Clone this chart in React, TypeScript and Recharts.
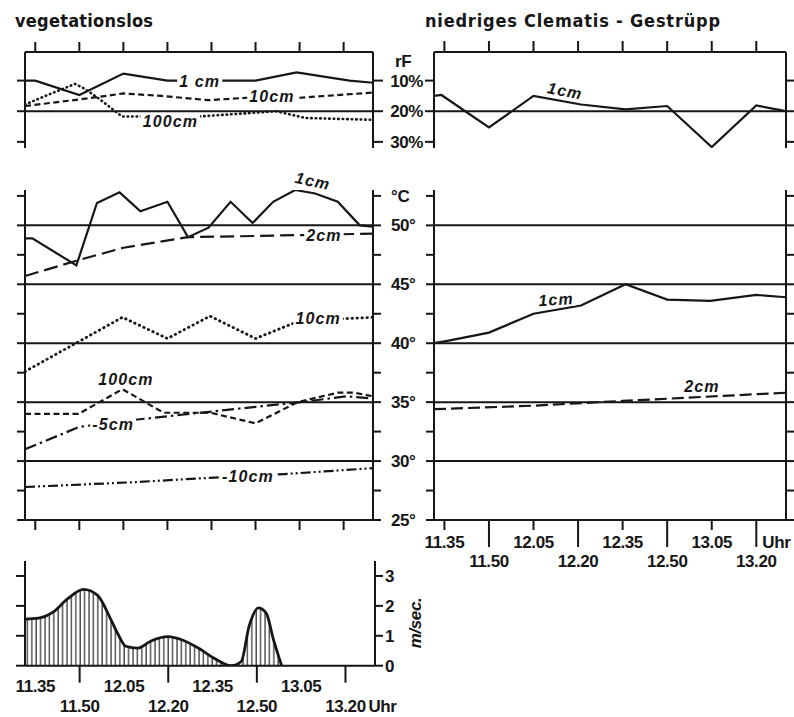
import React from "react";
import {
  LineChart,
  ComposedChart,
  Line,
  Area,
  XAxis,
  YAxis,
  ReferenceLine,
  ReferenceDot,
} from "recharts";

const W = 794;
const H = 717;
const INK = "#161616";
const NUM_FONT = '"Liberation Sans", Arial, sans-serif';
const TITLE_FONT = '"DejaVu Sans Condensed", "DejaVu Sans", sans-serif';
const AX = 2; // thickness reserved for every axis

type Pt = [number, number];

// time axis in minutes after midnight (11.35 -> 695)
const timeDomain: [number, number] = [691.5, 810];
const timeTicks = [695, 710, 725, 740, 755, 770, 785, 800];
const timeLabels = ["11.35", "11.50", "12.05", "12.20", "12.35", "12.50", "13.05", "13.20"];
const lowerRowTicks = [710, 740, 770, 800];

const rfTicks = [10, 20, 30];
const tempTicks = [25, 27.5, 30, 32.5, 35, 37.5, 40, 42.5, 45, 47.5, 50, 52.5];
const tempGrid = [30, 35, 40, 45, 50];
const windTicks = [0, 1, 2, 3];

// vegetationslos – rF (%)
const bareRf1cm: Pt[] = [
  [691.5, 10], [695, 10], [710, 14.7], [725, 7.7], [740, 10], [755, 10],
  [770, 10], [784, 7.3], [802, 10], [810, 10.7],
];
const bareRf10cm: Pt[] = [
  [691.5, 18.3], [713, 15.8], [725, 14.2], [738, 15], [754, 16.4], [767, 15.6],
  [785, 15.6], [810, 13.9],
];
const bareRf100cm: Pt[] = [
  [691.5, 17.8], [700, 14.4], [708.5, 11.1], [711.5, 12.5], [717, 16.1], [724.5, 21.7],
  [751, 21.7], [777, 20], [787, 22.2], [810, 22.8],
];

// niedriges Clematis-Gestrüpp – rF (%)
const shrubRf1cm: Pt[] = [
  [691.5, 15], [694, 14.7], [710, 25.3], [725, 15], [741, 17.8], [756, 19.4],
  [770, 18.3], [785, 31.7], [800, 18.1], [810, 20],
];

// vegetationslos – temperature (°C)
const bareT1cm: Pt[] = [
  [691.5, 48.9], [694, 48.9], [709, 46.6], [716, 51.9], [723.7, 52.8], [730.8, 51.2],
  [740, 52.0], [747, 49.0], [754, 49.8], [761.5, 52.0], [769, 50.2], [776, 52.0],
  [783.5, 53.0], [790.3, 52.7], [798, 52.0], [805.5, 50.0], [810, 49.9],
];
const bareT2cm: Pt[] = [
  [691.5, 45.7], [709, 47.0], [725, 48.1], [747, 49.0], [770, 49.1], [810, 49.3],
];
const bareT10cm: Pt[] = [
  [691.5, 37.6], [724.7, 42.2], [740, 40.4], [754.5, 42.3], [770, 40.4], [785, 41.9],
  [810, 42.2],
];
const bareT100cm: Pt[] = [
  [691.5, 34.0], [709.7, 34.0], [724.7, 36.1], [738.7, 34.1], [754.7, 34.1], [770, 33.2],
  [784.3, 35.0], [798, 35.8], [803.5, 35.8], [810, 35.5],
];
const bareTm5cm: Pt[] = [
  [691.5, 31.0], [710, 32.9], [725, 33.4], [740, 33.8], [770, 34.6], [785.5, 35.0],
  [801, 35.5], [810, 35.3],
];
const bareTm10cm: Pt[] = [
  [691.5, 27.8], [728, 28.2], [756, 28.6], [780, 28.9], [810, 29.4],
];

// niedriges Clematis-Gestrüpp – temperature (°C)
const shrubT1cm: Pt[] = [
  [691.5, 40.0], [696, 40.2], [710, 40.9], [725, 42.5], [741, 43.2], [756, 45.0],
  [770, 43.7], [784.5, 43.6], [800, 44.1], [810, 43.9],
];
const shrubT2cm: Pt[] = [
  [691.5, 34.4], [725, 34.7], [755, 35.1], [810, 35.8],
];

// wind speed (m/sec.)
const wind: Pt[] = [
  [691.6, 1.56], [696, 1.59], [701, 1.79], [706, 2.24], [711.3, 2.55], [716, 2.36],
  [720.5, 1.56], [723, 1.05], [725.6, 0.65], [729.7, 0.59], [734, 0.82], [740, 0.97],
  [745, 0.85], [751, 0.54], [755.5, 0.25], [761.3, 0], [764.7, 0.14], [767.4, 1.33],
  [770.5, 1.93], [773.2, 1.75], [775.6, 0.88], [778.4, 0],
];

const rows = (pts: Pt[]) => pts.map(([t, v]) => ({ t, v }));

// plot rectangle in page pixels -> chart margins (all charts share one canvas,
// each side also holds an axis AX px thick)
const frame = (x1: number, x2: number, y1: number, y2: number) => ({
  left: x1 - AX,
  right: W - x2 - AX,
  top: y1 - AX,
  bottom: H - y2 - AX,
});

const abs: React.CSSProperties = { position: "absolute", left: 0, top: 0 };
const axisLine = { stroke: INK, strokeWidth: 2 };
const numText = {
  fontFamily: NUM_FONT,
  fontWeight: 700,
  fontSize: 17,
  letterSpacing: -0.4,
  fill: INK,
};

// rough advance widths (em) of the italic tag glyphs, for the white knock-out box
const glyphW: Record<string, number> = { " ": 0.28, "-": 0.33, c: 0.56, m: 0.89 };
const tagWidth = (s: string) =>
  [...s].reduce((w, ch) => w + (glyphW[ch] ?? 0.56) * 16 + 1.1, 4);

const CurveTag = ({ cx, cy, text, rotate = 0 }: any) => {
  const w = tagWidth(text);
  return (
    <g transform={`rotate(${rotate} ${cx} ${cy})`}>
      <rect x={cx - w / 2} y={cy - 7} width={w} height={14} fill="#fff" />
      <text
        x={cx}
        y={cy}
        textAnchor="middle"
        dominantBaseline="central"
        fontFamily={NUM_FONT}
        fontStyle="italic"
        fontWeight={700}
        fontSize={16}
        letterSpacing={1.1}
        fill={INK}
      >
        {text}
      </text>
    </g>
  );
};

const tag = (key: string, x: number, y: number, text: string, rotate = 0) => (
  <ReferenceDot
    key={key}
    xAxisId="t"
    yAxisId="l"
    x={x}
    y={y}
    r={0}
    ifOverflow="visible"
    shape={(p: any) => <CurveTag cx={p.cx} cy={p.cy} text={text} rotate={rotate} />}
  />
);

type Side = "left" | "right" | "top" | "bottom";

// tick mark (and optional label) drawn outward from the axis line
const markTick =
  (side: Side, len: number, fmt?: (v: number) => string) => (p: any) => {
    const { x, y } = p;
    const v = p.payload.value;
    const x2 = side === "left" ? x - len : side === "right" ? x + len : x;
    const y2 = side === "top" ? y - len : side === "bottom" ? y + len : y;
    const label = fmt ? fmt(v) : "";
    return (
      <g>
        <line x1={x} y1={y} x2={x2} y2={y2} stroke={INK} strokeWidth={2} />
        {label && (
          <text
            x={side === "left" ? x2 - 2 : x2 + 2}
            y={y}
            dy="0.36em"
            textAnchor={side === "left" ? "end" : "start"}
            {...numText}
          >
            {label}
          </text>
        )}
      </g>
    );
  };

type TickCfg = { short: number; long: number; row1: number; row2: number; uhr: 1 | 2 };

// two-row clock labels under the time axis
const timeTick = (cfg: TickCfg) => (p: any) => {
  const v = p.payload.value;
  const lower = lowerRowTicks.includes(v);
  const len = lower ? cfg.long : cfg.short;
  const ty = p.y + (lower ? cfg.row2 : cfg.row1);
  const label = timeLabels[timeTicks.indexOf(v)];
  return (
    <g>
      {len > 0 && (
        <line x1={p.x} x2={p.x} y1={p.y} y2={p.y + len} stroke={INK} strokeWidth={2} />
      )}
      <text x={p.x} y={ty} textAnchor="middle" {...numText}>
        {label}
      </text>
      {v === 800 && cfg.uhr === 2 && (
        <text x={p.x + 23} y={ty} {...numText}>
          Uhr
        </text>
      )}
      {v === 800 && cfg.uhr === 1 && (
        <text x={p.x + 6} y={p.y + cfg.row1} {...numText}>
          Uhr
        </text>
      )}
    </g>
  );
};

const timeAxis = (orientation: "top" | "bottom", tick: any) => (
  <XAxis
    xAxisId="t"
    type="number"
    dataKey="t"
    domain={timeDomain}
    ticks={timeTicks}
    interval={0}
    orientation={orientation}
    height={AX}
    allowDataOverflow
    tickSize={0}
    tickMargin={0}
    tick={tick}
    axisLine={axisLine}
    tickLine={false}
  />
);

const valueAxis = (
  id: string,
  side: "left" | "right",
  domain: [number, number],
  ticks: number[],
  tick: any,
  reversed = false
) => (
  <YAxis
    yAxisId={id}
    orientation={side}
    type="number"
    domain={domain}
    ticks={ticks}
    interval={0}
    reversed={reversed}
    width={AX}
    allowDataOverflow
    tickSize={0}
    tickMargin={0}
    tick={tick}
    axisLine={axisLine}
    tickLine={false}
  />
);

const series = (key: string, pts: Pt[], dash?: string, width = 2.2, round = false) => (
  <Line
    key={key}
    xAxisId="t"
    yAxisId="l"
    data={rows(pts)}
    dataKey="v"
    type="linear"
    stroke={INK}
    strokeWidth={width}
    strokeDasharray={dash}
    strokeLinecap={round ? "round" : "butt"}
    dot={false}
    activeDot={false}
    isAnimationActive={false}
  />
);

const RF_DOMAIN: [number, number] = [0.67, 32];
const T_DOMAIN: [number, number] = [25, 53];
const WIND_DOMAIN: [number, number] = [0, 3.5];

function BareHumidity() {
  return (
    <div style={abs}>
      <LineChart width={W} height={H} margin={frame(25, 373, 52, 146)}>
        {timeAxis("top", markTick("top", 10))}
        {valueAxis("l", "left", RF_DOMAIN, rfTicks, markTick("left", 8), true)}
        {valueAxis("r", "right", RF_DOMAIN, rfTicks, markTick("right", 10), true)}
        <ReferenceLine xAxisId="t" yAxisId="l" y={20} stroke={INK} strokeWidth={2} />
        {series("r1", bareRf1cm)}
        {series("r10", bareRf10cm, "6 3.5")}
        {series("r100", bareRf100cm, "0.5 4", 2.6, true)}
        {tag("a", 751, 10.3, "1 cm")}
        {tag("b", 775.6, 15.3, "10cm")}
        {tag("c", 741, 23.3, "100cm")}
      </LineChart>
    </div>
  );
}

function ShrubHumidity() {
  return (
    <div style={abs}>
      <LineChart width={W} height={H} margin={frame(434, 786, 52, 146)}>
        {timeAxis("top", markTick("top", 11))}
        {valueAxis("l", "left", RF_DOMAIN, rfTicks, markTick("left", 9, (v) => `${v}%`), true)}
        {valueAxis("r", "right", RF_DOMAIN, rfTicks, markTick("right", 9), true)}
        <ReferenceLine xAxisId="t" yAxisId="l" y={20} stroke={INK} strokeWidth={2} />
        {series("s1", shrubRf1cm)}
        {tag("a", 735.6, 13.4, "1cm", 11)}
      </LineChart>
    </div>
  );
}

// °C axis: marks every 2.5°, labels left-aligned in the gap between the panels
const tempTick = (p: any) => {
  const v = p.payload.value;
  const text = v === 52.5 ? "°C" : v % 5 === 0 ? `${v}°` : "";
  return (
    <g>
      <line x1={p.x} y1={p.y} x2={p.x - 8} y2={p.y} stroke={INK} strokeWidth={2} />
      <text x={p.x - 43} y={p.y} dy="0.36em" textAnchor="start" {...numText}>
        {text}
      </text>
    </g>
  );
};

function BareTemperature() {
  return (
    <div style={abs}>
      <LineChart width={W} height={H} margin={frame(25, 373, 192, 520)}>
        {timeAxis("bottom", markTick("bottom", 10))}
        {valueAxis("l", "left", T_DOMAIN, tempTicks, markTick("left", 8))}
        {valueAxis("r", "right", T_DOMAIN, tempTicks, markTick("right", 8))}
        {tempGrid.map((g) => (
          <ReferenceLine key={g} xAxisId="t" yAxisId="l" y={g} stroke={INK} strokeWidth={2} />
        ))}
        {series("t1", bareT1cm)}
        {series("t2", bareT2cm, "14 6")}
        {series("t10", bareT10cm, "0.5 4.5", 2.8, true)}
        {series("t100", bareT100cm, "6 3.5")}
        {series("tm5", bareTm5cm, "12 4 2.5 4")}
        {series("tm10", bareTm10cm, "10 3 2 3 2 3")}
        {tag("a", 789.5, 53.75, "1cm", 12)}
        {tag("b", 793.3, 49.1, "2cm")}
        {tag("c", 791.3, 42.1, "10cm")}
        {tag("d", 725.9, 36.9, "100cm")}
        {tag("e", 721.5, 33.1, "-5cm")}
        {tag("f", 767.4, 28.7, "-10cm")}
      </LineChart>
    </div>
  );
}

function ShrubTemperature() {
  return (
    <div style={abs}>
      <LineChart width={W} height={H} margin={frame(434, 786, 192, 520)}>
        {timeAxis("bottom", timeTick({ short: 10, long: 27, row1: 28, row2: 47, uhr: 1 }))}
        {valueAxis("l", "left", T_DOMAIN, tempTicks, tempTick)}
        {valueAxis("r", "right", T_DOMAIN, tempTicks, markTick("right", 8))}
        {tempGrid.map((g) => (
          <ReferenceLine key={g} xAxisId="t" yAxisId="l" y={g} stroke={INK} strokeWidth={2} />
        ))}
        {series("s1", shrubT1cm)}
        {series("s2", shrubT2cm, "12 5")}
        {tag("a", 732.6, 43.7, "1cm", -4)}
        {tag("b", 781.7, 36.3, "2cm")}
      </LineChart>
    </div>
  );
}

function Wind() {
  return (
    <div style={abs}>
      <ComposedChart width={W} height={H} margin={frame(25, 375, 563, 665.7)}>
        <defs>
          <pattern id="hatch" width={4.4} height={10} patternUnits="userSpaceOnUse">
            <line x1={1} y1={0} x2={1} y2={10} stroke={INK} strokeWidth={1.1} />
          </pattern>
        </defs>
        {timeAxis("bottom", timeTick({ short: 0, long: 17, row1: 26, row2: 46, uhr: 2 }))}
        {valueAxis("l", "left", WIND_DOMAIN, windTicks, markTick("left", 9))}
        {valueAxis("r", "right", WIND_DOMAIN, windTicks, markTick("right", 8, (v) => `${v}`))}
        <Area
          xAxisId="t"
          yAxisId="l"
          data={rows(wind)}
          dataKey="v"
          type="monotone"
          stroke={INK}
          strokeWidth={2.8}
          fill="url(#hatch)"
          fillOpacity={1}
          dot={false}
          activeDot={false}
          isAnimationActive={false}
        />
      </ComposedChart>
    </div>
  );
}

export default function App() {
  return (
    <div style={{ position: "absolute", left: 0, top: 0, width: W, height: H, background: "#fff" }}>
      <BareHumidity />
      <ShrubHumidity />
      <BareTemperature />
      <ShrubTemperature />
      <Wind />
      <svg width={W} height={H} style={{ ...abs, pointerEvents: "none" }}>
        <text x={15} y={27} fontFamily={TITLE_FONT} fontWeight={700} fontSize={18} fill={INK} textLength={138} lengthAdjust="spacing">
          vegetationslos
        </text>
        <text x={425} y={27} fontFamily={TITLE_FONT} fontWeight={700} fontSize={18} fill={INK} textLength={295} lengthAdjust="spacing">
          niedriges Clematis - Gestrüpp
        </text>
        <text x={395} y={67} {...numText}>
          rF
        </text>
        <text
          x={415}
          y={623}
          textAnchor="middle"
          dominantBaseline="central"
          transform="rotate(-90 415 623)"
          {...numText}
          fontStyle="italic"
        >
          m/sec.
        </text>
      </svg>
    </div>
  );
}
